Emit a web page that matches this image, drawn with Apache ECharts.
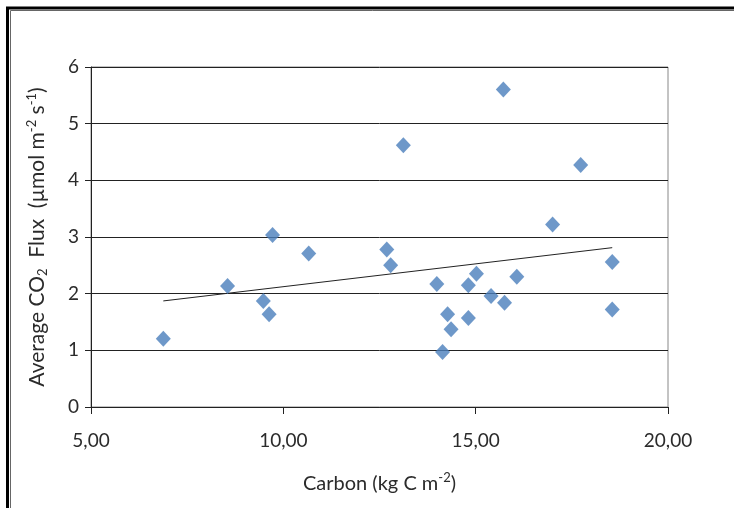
<!DOCTYPE html>
<html><head><meta charset="utf-8">
<script src="https://cdn.jsdelivr.net/npm/echarts@6/dist/echarts.min.js"></script>
<style>html,body{margin:0;padding:0;background:#fff}#c{width:734px;height:508px}</style>
</head><body><div id="c"></div>
<script>
// Data
var carbon = [6.88, 8.55, 9.48, 9.63, 9.72, 10.66, 12.69, 12.79, 13.12, 13.99, 14.27, 14.36, 14.14, 14.81, 14.81, 15.02, 15.40, 15.75, 15.72, 16.07, 17.00, 17.73, 18.55, 18.55];
var flux   = [1.205, 2.135, 1.87, 1.635, 3.035, 2.71, 2.78, 2.50, 4.62, 2.17, 1.635, 1.37, 0.97, 2.15, 1.57, 2.35, 1.96, 1.84, 5.604, 2.30, 3.22, 4.27, 2.56, 1.72];
var xTicks = [5, 10, 15, 20];
var yTicks = [0, 1, 2, 3, 4, 5, 6];

var points = carbon.map(function (c, i) { return [c, flux[i]]; });

// linear trend line (least squares) from the data
var n = carbon.length, mx = 0, my = 0;
for (var i = 0; i < n; i++) { mx += carbon[i]; my += flux[i]; }
mx /= n; my /= n;
var sxy = 0, sxx = 0;
for (var i = 0; i < n; i++) { sxy += (carbon[i] - mx) * (flux[i] - my); sxx += (carbon[i] - mx) * (carbon[i] - mx); }
var slope = sxy / sxx, icpt = my - slope * mx;
var xMin = Math.min.apply(null, carbon), xMax = Math.max.apply(null, carbon);
var trend = [[xMin, icpt + slope * xMin], [xMax, icpt + slope * xMax]];

var FONT = 'Lato';
var TXT = '#2b2b2b';
var chart = echarts.init(document.getElementById('c'), null, { renderer: 'canvas' });
chart.setOption({
  animation: false,
  backgroundColor: '#fff',
  graphic: [
    { type: 'rect', shape: { x: 7.5, y: 8, width: 760, height: 540 }, style: { fill: null, stroke: '#000', lineWidth: 3 } },
    { type: 'rect', shape: { x: 10.5, y: 10.5, width: 760, height: 540 }, style: { fill: null, stroke: '#666', lineWidth: 1 } }
  ],
  grid: { left: 91, right: 66, top: 67, bottom: 101, show: true, borderColor: '#888', borderWidth: 1, backgroundColor: 'transparent' },
  xAxis: {
    type: 'value', min: xTicks[0], max: xTicks[xTicks.length - 1], interval: 5,
    name: '{a|Carbon (kg C m}{sup|-2}{a|)}',
    nameLocation: 'middle', nameGap: 64,
    nameTextStyle: { rich: {
      a: { fontFamily: FONT, fontSize: 20, color: TXT },
      sup: { fontFamily: FONT, fontSize: 13, color: TXT, padding: [0, 0, 12, 0] }
    } },
    axisLine: { lineStyle: { color: '#222', width: 1 } },
    axisTick: { show: true, length: 7, inside: false, lineStyle: { color: '#222' } },
    splitLine: { show: false },
    axisLabel: { margin: 24, fontFamily: FONT, fontSize: 19, color: TXT,
      formatter: function (v) { return v.toFixed(2).replace('.', ','); } }
  },
  yAxis: {
    type: 'value', min: yTicks[0], max: yTicks[yTicks.length - 1], interval: 1,
    name: '{a|Average CO}{sub|2}{a|  Flux  (µmol m}{sup|-2}{a| s}{sup|-1}{a|)}',
    nameLocation: 'middle', nameGap: 41, nameRotate: 90,
    nameTextStyle: { rich: {
      a: { fontFamily: FONT, fontSize: 21, color: TXT },
      sub: { fontFamily: FONT, fontSize: 13, color: TXT, padding: [10, 0, 0, 0] },
      sup: { fontFamily: FONT, fontSize: 13, color: TXT, padding: [0, 0, 12, 0] }
    } },
    axisLine: { show: true, lineStyle: { color: '#222', width: 1 } },
    axisTick: { show: true, length: 6, lineStyle: { color: '#222' } },
    splitLine: { show: true, lineStyle: { color: '#222', width: 1 } },
    axisLabel: { margin: 12, fontFamily: FONT, fontSize: 19, color: TXT }
  },
  series: [
    { type: 'scatter', data: points, symbol: 'diamond', symbolSize: [15, 16],
      itemStyle: { color: '#4A7EBB' }, z: 3 },
    { type: 'line', data: trend, symbol: 'none', lineStyle: { color: '#222', width: 1 }, z: 2 }
  ]
});
</script></body></html>
